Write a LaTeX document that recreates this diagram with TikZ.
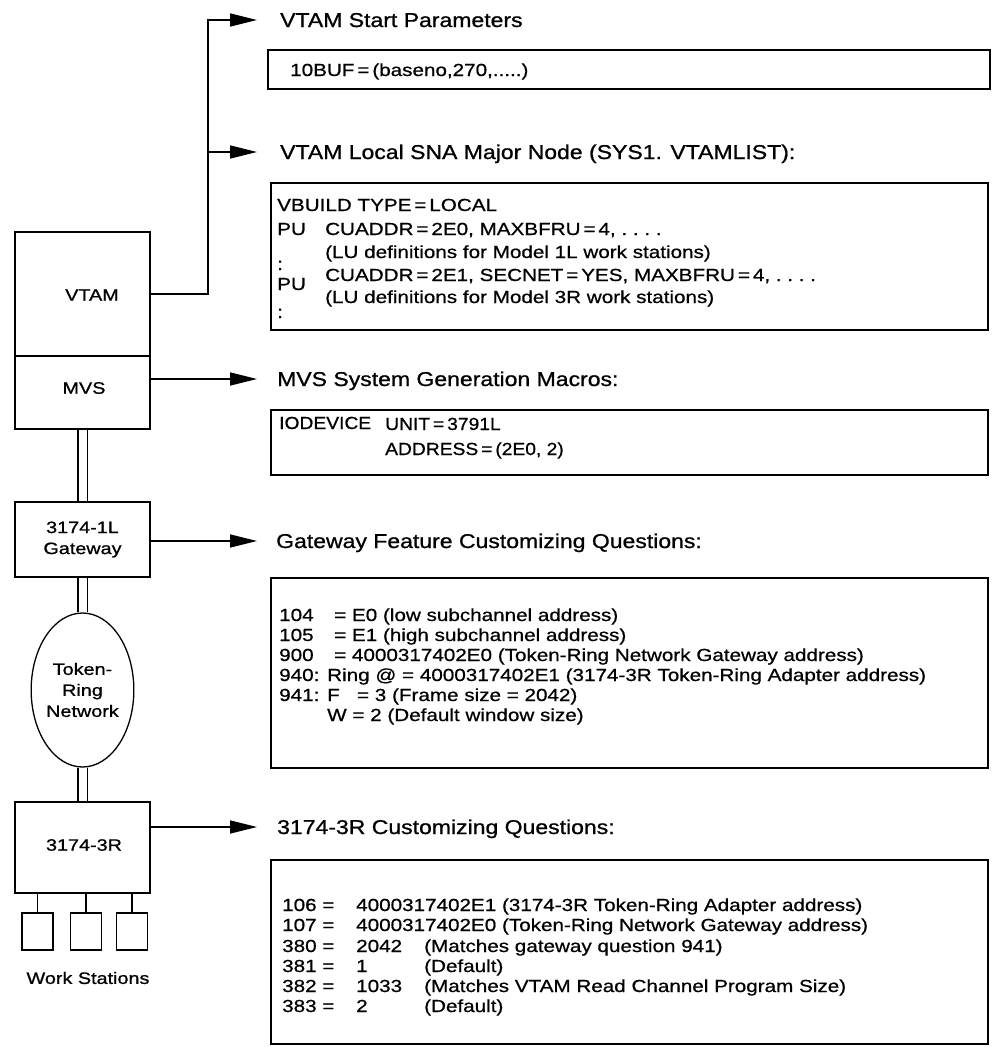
\documentclass[tikz,border=0pt]{standalone}
\usepackage{fontspec}
\setmainfont{Liberation Sans}
\newfontfamily\hdfont[FakeStretch=1.15,FakeBold=0.9]{Liberation Sans}
\newfontfamily\btfont[FakeStretch=1.18,FakeBold=0.7]{Liberation Sans}
\newfontfamily\bnfont[FakeStretch=1.1,FakeBold=0.7]{Liberation Sans}
\newfontfamily\lbfont[FakeStretch=1.2,FakeBold=0.9]{Liberation Sans}
\usetikzlibrary{shapes.geometric,arrows.meta}
\begin{document}
\begin{tikzpicture}[x=1pt,y=-1pt,
  hd/.style={anchor=base west,inner sep=0pt,font=\hdfont\fontsize{20}{24}\selectfont},
  bt/.style={anchor=base west,inner sep=0pt,font=\btfont\fontsize{17.5}{21}\selectfont},
  bn/.style={anchor=base west,inner sep=0pt,font=\bnfont\fontsize{17.5}{21}\selectfont},
  lb/.style={inner sep=0pt,font=\lbfont\fontsize{16.5}{21}\selectfont,align=center},
  rbox/.style={draw,line width=1.3pt,inner sep=0pt},
  lbox/.style={draw,line width=1.3pt,inner sep=0pt,minimum width=135pt},
  wsbox/.style={draw,line width=1.3pt,inner sep=0pt,minimum width=31pt,minimum height=37pt},
  arr/.style={line width=1.6pt,-{Triangle[length=27pt,width=13pt]}},
  ln/.style={line width=1.6pt},
  dbl/.style={double,double distance=8pt,line width=1.6pt}]
\useasboundingbox[fill=white] (0,0) rectangle (1000,1047);

% ---------- left column ----------
\node[lbox,minimum height=124pt] (vtam) at (82.5,294) {};
\node[lbox,minimum height=73pt] (mvs) at (82.5,392.5) {};
\node[lb] (vtamlbl) at (92,295) {VTAM};
\node[lb] (mvslbl) at (84,388) {MVS};
\node[lbox,minimum height=75pt,lb] (gw) at (82.5,539.5) {3174-1L\\Gateway};
\node[draw,ellipse,line width=1.3pt,inner sep=0pt,minimum width=102pt,minimum height=154pt,lb] (ring) at (82.5,690) {Token-\\Ring\\Network};
\node[lbox,minimum height=91pt] (r3) at (82.5,847.5) {};
\node[lb] (r3lbl) at (84,845) {3174-3R};
\node[wsbox] (ws1) at (37.5,931.5) {};
\node[wsbox] (ws2) at (86,931.5) {};
\node[wsbox] (ws3) at (132,931.5) {};
\node[lb] (wslbl) at (88,978) {Work Stations};

\draw[dbl] (mvs.south) -- (gw.north);
\draw[dbl] (gw.south) -- (ring.north);
\draw[dbl] (ring.south) -- (r3.north);
\foreach \w in {ws1,ws2,ws3} \draw[line width=1.3pt] (\w.north) -- (\w.north |- r3.south);

% ---------- connectors ----------
\coordinate (c1) at (208,20);
\coordinate (c2) at (208,152);
\coordinate (a1) at (257,20);
\coordinate (a2) at (257,152);
\coordinate (a3) at (257,379);
\coordinate (a4) at (257,541);
\coordinate (a5) at (257,827);
\draw[arr] (vtam.east) -| (c1) -- (a1);
\draw[arr] (c2) -- (a2);
\draw[arr] (mvs.east |- a3) -- (a3);
\draw[arr] (gw.east |- a4) -- (a4);
\draw[arr] (r3.east |- a5) -- (a5);

% ---------- headings ----------
\node[hd] (h1) at (280,27) {VTAM Start Parameters};
\node[hd] (h2) at (280,159) {VTAM Local SNA Major Node (SYS1. VTAMLIST):};
\node[hd] (h3) at (277,386) {MVS System Generation Macros:};
\node[hd] (h4) at (276,548) {Gateway Feature Customizing Questions:};
\node[hd] (h5) at (277,834) {3174-3R Customizing Questions:};

% ---------- boxes ----------
\node[rbox,minimum width=722pt,minimum height=39pt] (b1) at (629,69.5) {};
\node[bt] (b1t) at (290,76) {10BUF\,=\,(baseno,270,.....)};

\node[rbox,minimum width=717pt,minimum height=147pt] (b2) at (629.5,256.5) {};
\node[bt] (b2r1) at (277,211) {VBUILD TYPE\,=\,LOCAL};
\node[bt] (b2p1) at (277,235) {PU};
\node[bt] (b2r2) at (325,235) {CUADDR\,=\,2E0, MAXBFRU\,=\,4, .\ .\ .\ .};
\node[bt] (b2c1) at (277,270) {:};
\node[bt] (b2r3) at (325,258) {(LU definitions for Model 1L work stations)};
\node[bt] (b2p2) at (277,290) {PU};
\node[bt] (b2r4) at (325,281) {CUADDR\,=\,2E1, SECNET\,=\,YES, MAXBFRU\,=\,4, .\ .\ .\ .};
\node[bt] (b2r5) at (325,303) {(LU definitions for Model 3R work stations)};
\node[bt] (b2c2) at (277,318) {:};

\node[rbox,minimum width=717pt,minimum height=65pt] (b3) at (629.5,442.5) {};
\node[bn] (b3a) at (279,429) {IODEVICE};
\node[bn] (b3b) at (385,430) {UNIT\,=\,3791L};
\node[bn] (b3c) at (385,455) {ADDRESS\,=\,(2E0, 2)};

\node[rbox,minimum width=717pt,minimum height=190pt] (b4) at (629.5,673) {};
\node[bt] (g1a) at (279,621) {104};
\node[bt] (g1b) at (334,621) {= E0 (low subchannel address)};
\node[bt] (g2a) at (279,641) {105};
\node[bt] (g2b) at (334,641) {= E1 (high subchannel address)};
\node[bt] (g3a) at (279,661) {900};
\node[bt] (g3b) at (334,661) {= 4000317402E0 (Token-Ring Network Gateway address)};
\node[bt] (g4a) at (279,681) {940:};
\node[bt] (g4b) at (327,681) {Ring @ = 4000317402E1 (3174-3R Token-Ring Adapter address)};
\node[bt] (g5a) at (279,701) {941:};
\node[bt] (g5b) at (327,701) {F\ \ \ = 3 (Frame size = 2042)};
\node[bt] (g6b) at (327,721) {W = 2 (Default window size)};

\node[rbox,minimum width=717pt,minimum height=184pt] (b5) at (629.5,952) {};
\node[bt] (q1a) at (282,911) {106 =};
\node[bt] (q1b) at (356,911) {4000317402E1 (3174-3R Token-Ring Adapter address)};
\node[bt] (q2a) at (282,931) {107 =};
\node[bt] (q2b) at (356,931) {4000317402E0 (Token-Ring Network Gateway address)};
\node[bt] (q3a) at (282,952) {380 =};
\node[bt] (q3b) at (356,952) {2042};
\node[bt] (q3c) at (424,952) {(Matches gateway question 941)};
\node[bt] (q4a) at (282,972) {381 =};
\node[bt] (q4b) at (356,972) {1};
\node[bt] (q4c) at (424,972) {(Default)};
\node[bt] (q5a) at (282,992) {382 =};
\node[bt] (q5b) at (356,992) {1033};
\node[bt] (q5c) at (424,992) {(Matches VTAM Read Channel Program Size)};
\node[bt] (q6a) at (282,1012) {383 =};
\node[bt] (q6b) at (356,1012) {2};
\node[bt] (q6c) at (424,1012) {(Default)};
\end{tikzpicture}
\end{document}
